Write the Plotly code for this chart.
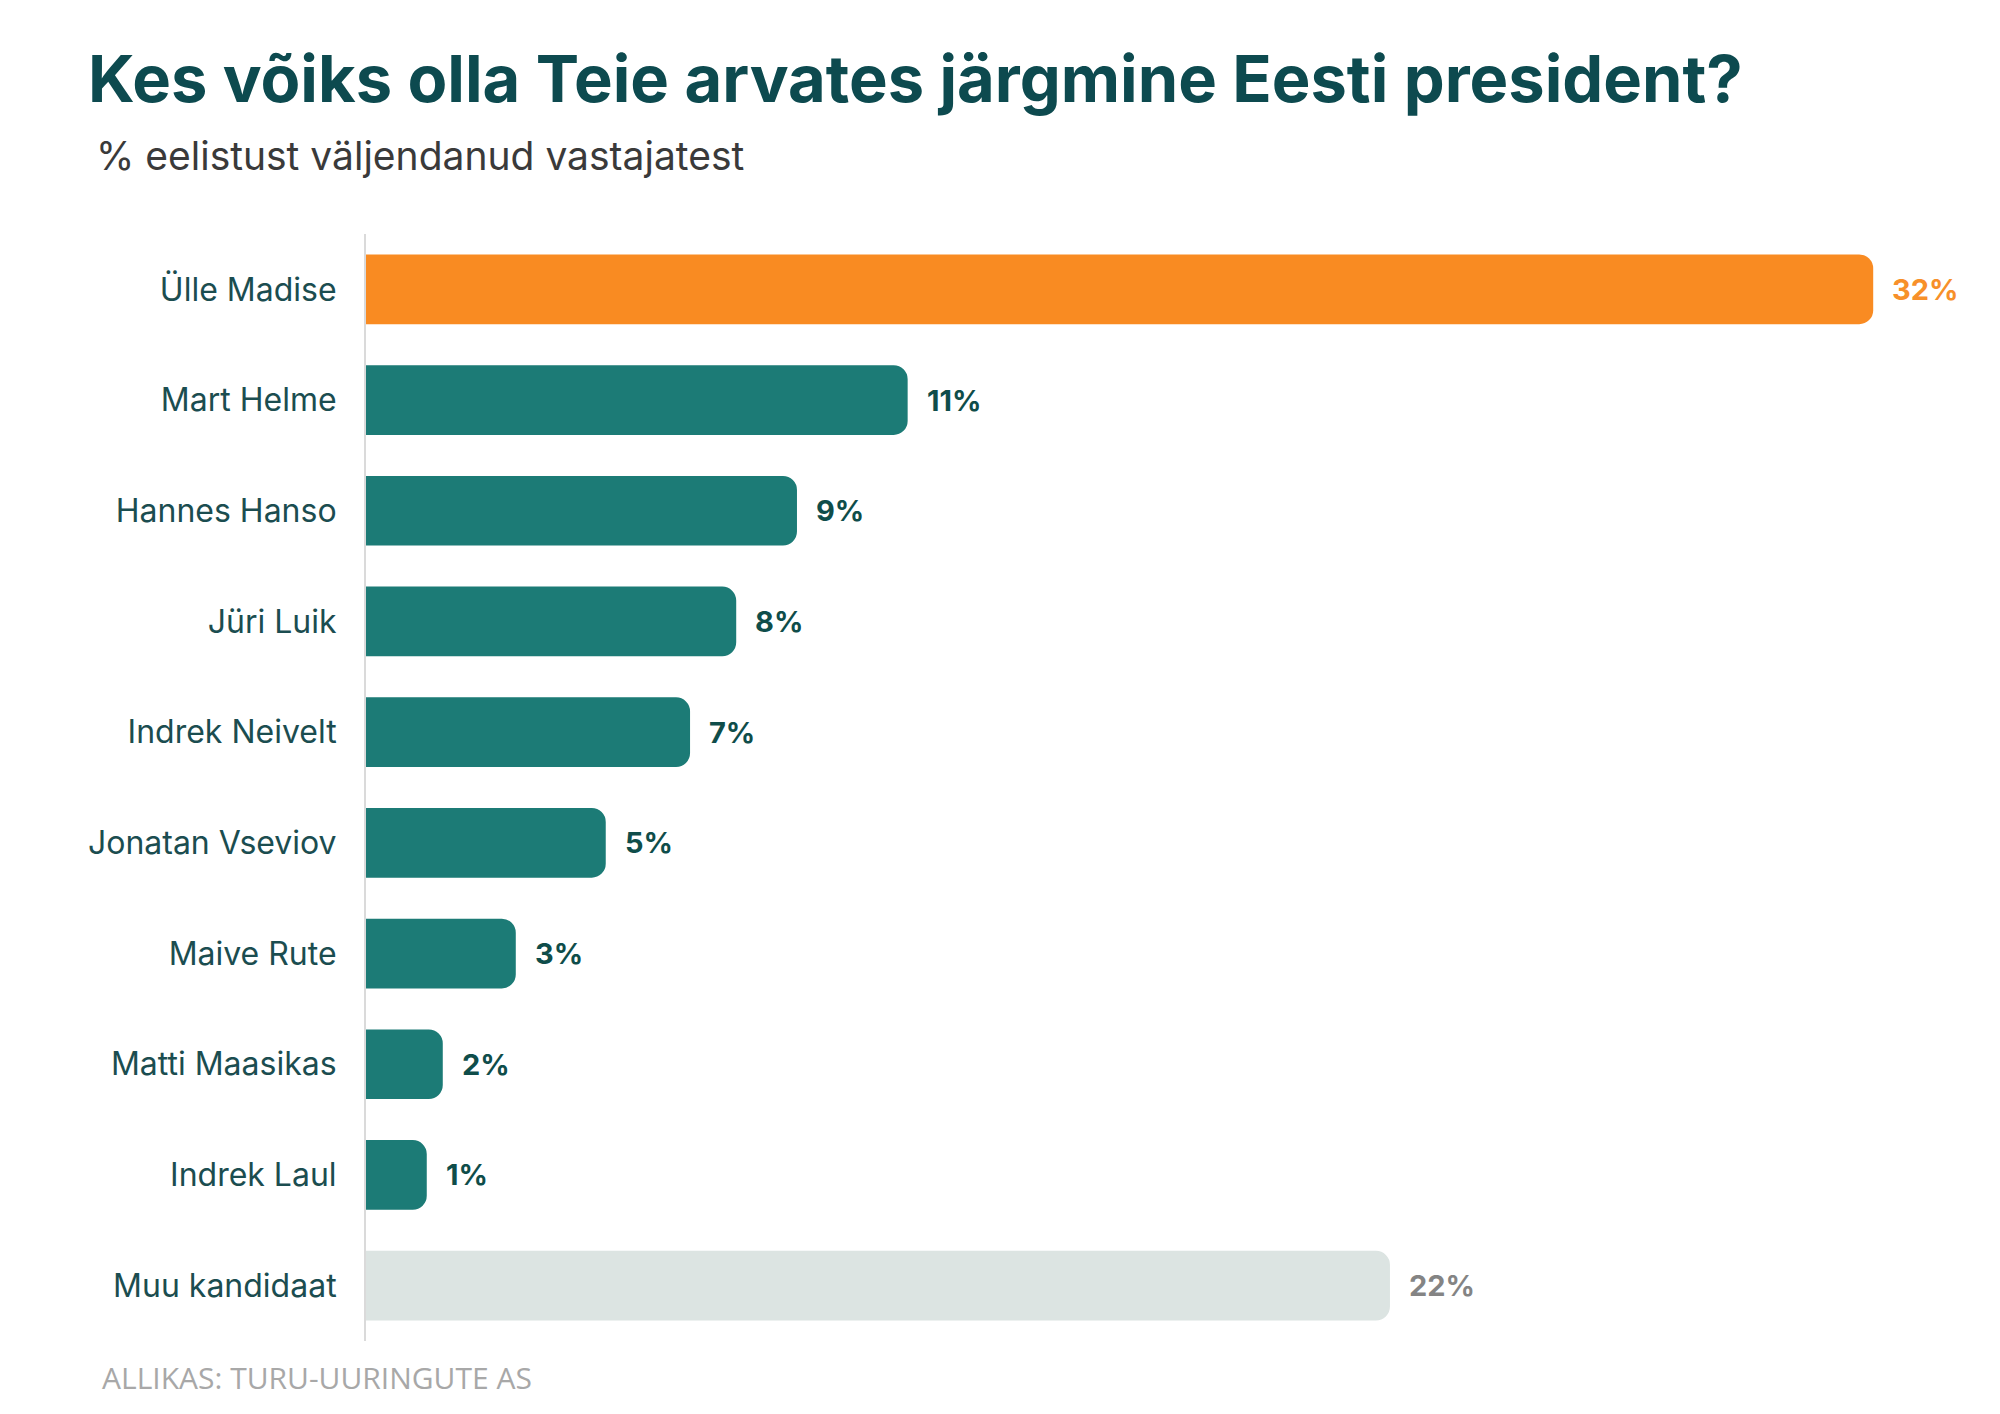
import plotly.graph_objects as go

# data (bar lengths, printed labels)
candidates = ["Ülle Madise", "Mart Helme", "Hannes Hanso", "Jüri Luik", "Indrek Neivelt",
              "Jonatan Vseviov", "Maive Rute", "Matti Maasikas", "Indrek Laul", "Muu kandidaat"]
shares = [32.0, 11.5, 9.15, 7.86, 6.88, 5.09, 3.18, 1.63, 1.29, 21.74]
share_labels = ["32%", "11%", "9%", "8%", "7%", "5%", "3%", "2%", "1%", "22%"]

title = "Kes võiks olla Teie arvates järgmine Eesti president?"
subtitle = "% eelistust väljendanud vastajatest"
source = "ALLIKAS: TURU-UURINGUTE AS"

ORANGE = "#F98B22"
TEAL = "#1C7B76"
GREY = "#DCE4E2"
DARK = "#0D4A4F"

W, H = 2000, 1414
OFF = 8  # page margin around the figure
L, R, T, B = 358, 68, 226, 81


def bar_color(i):
    if i == 0:
        return ORANGE
    if i == len(candidates) - 1:
        return GREY
    return TEAL


def label_color(i):
    if i == 0:
        return "#F7902A"
    if i == len(candidates) - 1:
        return "#848484"
    return "#0F4D4A"


# screen pixel -> paper helpers
def px_x(x):
    return (x - OFF - L) / (W - L - R)


def px_y(y):
    return (H - B - (y - OFF)) / (H - T - B)


colors = [bar_color(i) for i in range(len(candidates))]

fig = go.Figure()
fig.add_trace(go.Bar(
    x=shares,
    y=candidates,
    orientation="h",
    marker=dict(color=colors, cornerradius=14, line=dict(width=0)),
    hoverinfo="x+y",
))

for i, (c, v, lab) in enumerate(zip(candidates, shares, share_labels)):
    fig.add_annotation(x=v, y=c, text=lab, showarrow=False,
                       xanchor="left", yanchor="middle", xshift=17,
                       font=dict(family="Inter", size=29, weight=700, color=label_color(i)))

fig.add_annotation(x=px_x(94), y=px_y(155), xref="paper", yref="paper",
                   text=subtitle, showarrow=False, xanchor="left", yanchor="middle",
                   font=dict(family="Inter", size=39, color="#3a3a3a"))
fig.add_annotation(x=px_x(100), y=px_y(1377), xref="paper", yref="paper",
                   text=source, showarrow=False, xanchor="left", yanchor="middle",
                   font=dict(family="Open Sans", size=30, color="#A8A8A8"))

fig.update_layout(
    width=W, height=H,
    margin=dict(l=L, r=R, t=T, b=B),
    paper_bgcolor="white", plot_bgcolor="white",
    showlegend=False,
    bargap=0.37,
    title=dict(text=title, x=80 / W, xanchor="left", xref="container",
               y=1 - (79 - OFF) / H, yanchor="middle", yref="container",
               font=dict(family="Inter", size=65, weight=700, color=DARK)),
    xaxis=dict(range=[0, (W - L - R) / 47.1], visible=False, fixedrange=True),
    yaxis=dict(autorange="reversed", showline=True, linecolor="#DADADA", linewidth=2,
               showgrid=False, zeroline=False, ticks="", ticklabelstandoff=21,
               tickfont=dict(family="Inter", size=32, color="#1B4D50")),
)

fig.write_html("out.html")
